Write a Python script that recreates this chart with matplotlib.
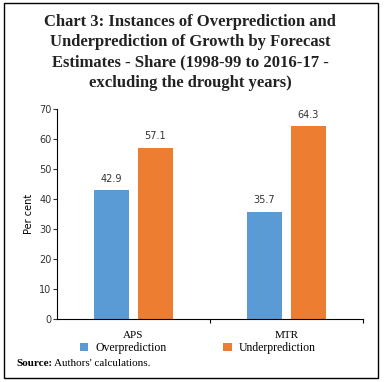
import numpy as np
import matplotlib.pyplot as plt
from matplotlib.patches import Rectangle

categories = ["APS", "MTR"]
over = [42.9, 35.7]
under = [57.1, 64.3]
series_names = ["Overprediction", "Underprediction"]
yticks = [0, 10, 20, 30, 40, 50, 60, 70]

BLUE = "#5B9BD5"
ORANGE = "#ED7D31"

W, H = 384, 382
fig = plt.figure(figsize=(W / 100, H / 100), dpi=100)

# axes placed in pixel terms
x0, x1 = 57, 363
y_top, y_bot = 109, 319
ax = fig.add_axes([x0 / W, 1 - y_bot / H, (x1 - x0) / W, (y_bot - y_top) / H])

x = np.arange(len(categories))
w = 0.225
off = 0.143
b1 = ax.bar(x - off, over, w, color=BLUE, label=series_names[0])
b2 = ax.bar(x + off, under, w, color=ORANGE, label=series_names[1])

for bars in (b1, b2):
    for r in bars:
        ax.text(r.get_x() + r.get_width() / 2, r.get_height() + 2.2,
                f"{r.get_height():.1f}", ha="center", va="bottom",
                fontsize=7, color="#333333")

ax.set_xlim(-0.5, 1.5)
ax.set_ylim(0, 70)
ax.set_yticks(yticks)
ax.tick_params(axis="y", labelsize=7, length=3, width=0.8, pad=1, colors="#333333")
ax.set_xticks([0.5, 1.5])
ax.set_xticklabels([])
ax.tick_params(axis="x", length=3, width=0.8)
ax.spines["top"].set_visible(False)
ax.spines["right"].set_visible(False)
for s in ("left", "bottom"):
    ax.spines[s].set_linewidth(0.8)
ax.set_ylabel("Per cent", fontsize=7, labelpad=4)

for i, c in enumerate(categories):
    ax.text(x[i], -4, c, ha="center", va="top", fontsize=8,
            family="Liberation Serif", transform=ax.transData)

leg = fig.legend(handles=[b1, b2], loc="center", ncol=2,
                 bbox_to_anchor=(198 / W, 1 - 348 / H), frameon=False,
                 prop={"family": "Liberation Serif", "size": 8.5},
                 handlelength=0.7, handleheight=0.7, columnspacing=4.8,
                 handletextpad=0.6)

src = fig.text(16 / W, 1 - 364 / H, "Source:", fontsize=8,
               fontweight="bold", family="Liberation Serif", va="center")
fig.canvas.draw()
bb = src.get_window_extent()
fig.text((bb.x1 + 2) / W, 1 - 364 / H, "Authors' calculations.",
         fontsize=8, family="Liberation Serif", va="center")

title = ("Chart 3: Instances of Overprediction and\n"
         "Underprediction of Growth by Forecast\n"
         "Estimates - Share (1998-99 to 2016-17 -\n"
         "excluding the drought years)")
fig.text(190 / W, 1 - 14 / H, title, ha="center", va="top", fontsize=12,
         fontweight="bold", family="Liberation Serif", linespacing=1.36,
         color="#222222")

fig.patches.append(Rectangle((4 / W, 1 - 378 / H), 374 / W, 375 / H,
                             transform=fig.transFigure, fill=False,
                             edgecolor="black", linewidth=1))

fig.savefig("out.png", dpi=100)
